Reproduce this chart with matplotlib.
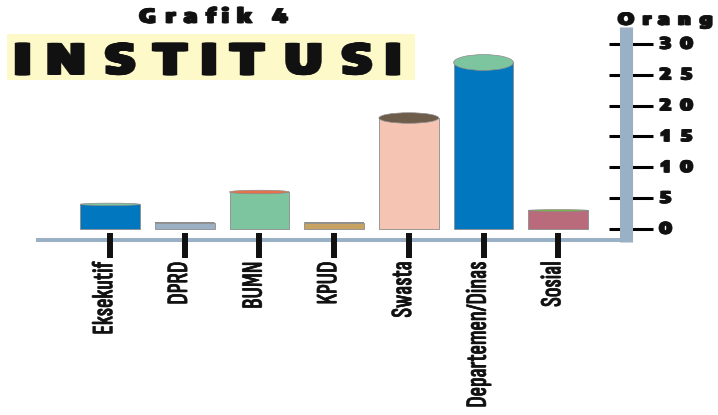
# Grafik 4 - Institusi (cylinder bar chart)
import matplotlib
matplotlib.use("Agg")
import matplotlib.pyplot as plt
import matplotlib.transforms as mtransforms
import matplotlib.patheffects as pe
from matplotlib.patches import Ellipse, Rectangle
from matplotlib.font_manager import FontProperties, findfont
from matplotlib.ft2font import FT2Font

# data
categories = ["Eksekutif", "DPRD", "BUMN", "KPUD", "Swasta", "Departemen/Dinas", "Sosial"]
values = [4, 1, 6, 1, 18, 27, 3]
body_colors = ["#0077BF", "#9BB0C3", "#7DC59E", "#C8A262", "#F5C4B3", "#0077BE", "#B96A7B"]
top_colors = ["#7DC49F", "#A884A8", "#E8714A", "#B8924F", "#6E5D4B", "#7DC59E", "#7CB342"]
yticks = [0, 5, 10, 15, 20, 25, 30]

W, H, DPI = 718, 415, 100
BLUE = "#9AB0C5"
WIDE = "Encode Sans Expanded"
LABEL_FONT = "Sofia Sans Extra Condensed"

fig = plt.figure(figsize=(W / DPI, H / DPI), dpi=DPI)
px = mtransforms.IdentityTransform()
renderer = fig.canvas.get_renderer()

# axes placement in pixels (from top-left)
left, right, top, bottom = 38, 631, 27, 240
ax = fig.add_axes([left / W, 1 - bottom / H, (right - left) / W, (bottom - top) / H])

# pixel mapping: first category centre at x=110, spacing 74.7 ; y=0 at 229, 30 at 44
step = 74.7
ppu = (229 - 44) / 30.0
ax.set_xlim((left - 110) / step, (right - 110) / step)
ax.set_ylim((229 - bottom) / ppu, (229 - top) / ppu)

xs = list(range(len(categories)))
bw = 0.8
ax.bar(xs, values, width=bw, color=body_colors, edgecolor="#8C8C8C", linewidth=0.6, zorder=3)
for x, v, c in zip(xs, values, top_colors):
    ax.add_patch(Ellipse((x, v), bw, 0.095 * v, facecolor=c, edgecolor="#8C8C8C",
                         linewidth=0.5, zorder=4))

for s in ["top", "left", "right"]:
    ax.spines[s].set_visible(False)
ax.spines["bottom"].set_color(BLUE)
ax.spines["bottom"].set_linewidth(2.9)
ax.set_facecolor("none")

# vertical blue axis bar
xv = (625.5 - left) / (right - left)
ax.plot([xv, xv], [-(242 - bottom) / (bottom - top), 1], transform=ax.transAxes,
        color=BLUE, linewidth=9.4, solid_capstyle="butt", clip_on=False, zorder=5)

# y ticks (marks only, labels drawn wide below)
ax.yaxis.tick_right()
ax.set_yticks(yticks)
ax.set_yticklabels([])
ax.tick_params(axis="y", direction="inout", length=31.7, width=2.2, color="black")
for t in ax.yaxis.get_major_ticks():
    t.tick2line.set_zorder(6)

# x tick marks crossing the axis line
y_hi = (229 - 233) / ppu
y_lo = (229 - 258) / ppu
ax.vlines(xs, y_lo, y_hi, color="#111111", linewidth=4.3, clip_on=False, zorder=6)

# category labels: size them so the longest one is about 148 px long
probe = fig.text(0, 0, "Departemen/Dinas", fontsize=20, family=[LABEL_FONT, "DejaVu Sans"],
                 fontweight="bold")
lab_size = 20 * 146 / probe.get_window_extent(renderer).width
probe.remove()
ax.set_xticks(xs)
ax.set_xticklabels(categories, rotation=90, fontsize=lab_size, fontweight="bold",
                   family=[LABEL_FONT, "DejaVu Sans"], color="#111111")
ax.tick_params(axis="x", length=0, pad=15.5)
shift = mtransforms.ScaledTranslation(-4 / 72, 0, fig.dpi_scale_trans)
for lab in ax.get_xticklabels():
    lab.set_transform(lab.get_transform() + shift)
    lab.set_path_effects([pe.Stroke(linewidth=0.4, foreground="#111111", offset=(k * 0.72, 0))
                          for k in range(2)])


def wide_text(s, c_first, c_last, y_base, size, weight=900, family=WIDE, smear=2,
              color="#111111"):
    # the original picture is stretched sideways: spread the letters so that the first
    # and last glyph centres land on c_first / c_last, and smear them a little
    font = FT2Font(findfont(FontProperties(family=family, weight=weight)))
    font.set_size(size, DPI)
    advs = [font.load_char(ord(ch)).linearHoriAdvance for ch in s]
    centres, cum = [], 0
    for a in advs:
        centres.append(cum + a / 2)
        cum += a
    k = (c_last - c_first) / (centres[-1] - centres[0]) if len(s) > 1 else 0
    effects = [pe.Stroke(linewidth=0.3, foreground=color, offset=(i * 0.72, 0))
               for i in range(smear + 1)]
    for ch, c in zip(s, centres):
        if ch == " ":
            continue
        x = c_first + k * (c - centres[0]) - smear / 2
        fig.text(x, H - y_base, ch, transform=px, fontsize=size, ha="center", va="baseline",
                 family=family, weight=weight, color=color, path_effects=effects)


# y tick labels
size_tick = 11.8
cap = 0.61 * size_tick * DPI / 72
for v in yticks:
    ypix = H - ax.transData.transform((0, v))[1]
    wide_text(str(v), 665.5, 686.5, ypix + cap / 2, size_tick)

# titles
fig.add_artist(Rectangle((7, H - 80), 408, 46, transform=px, facecolor="#FDF9C8",
                         edgecolor="none", zorder=0))
wide_text("Grafik 4", 147.5, 280, 23, 14.3)
wide_text("INSTITUSI", 22.5, 393, 74.5, 30.5, smear=4)
wide_text("Orang", 626, 706, 25, 12.3)

fig.savefig("out.png", dpi=DPI)
